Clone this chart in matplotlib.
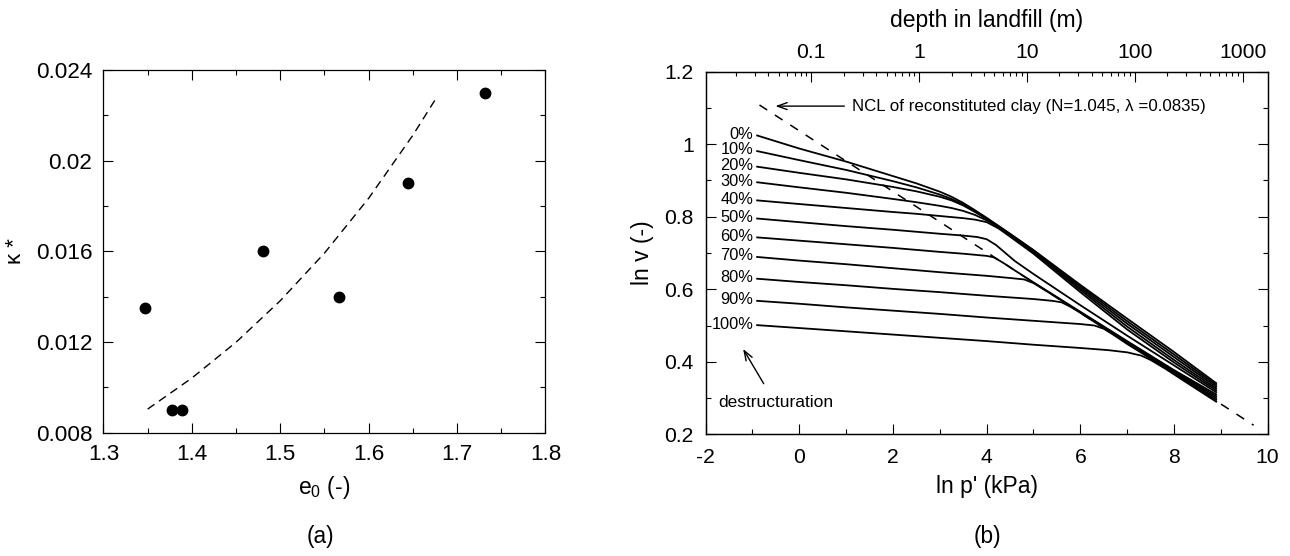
import numpy as np
import matplotlib.pyplot as plt
from matplotlib.ticker import MultipleLocator, FormatStrFormatter, LogLocator, FuncFormatter, NullFormatter

plt.rcParams['font.family'] = ['Liberation Sans', 'DejaVu Sans']
plt.rcParams['axes.unicode_minus'] = False
plt.rcParams['mathtext.default'] = 'regular'

# (a) kappa* against initial void ratio
e0 = [1.347, 1.377, 1.389, 1.481, 1.566, 1.644, 1.732]
kappa = [0.0135, 0.009, 0.009, 0.016, 0.014, 0.019, 0.023]
fit_e0 = [1.35, 1.40, 1.45, 1.50, 1.55, 1.60, 1.65, 1.675]
fit_kappa = [0.00904, 0.01041, 0.01199, 0.01382, 0.01592, 0.01834, 0.02112, 0.02267]

# (b) compression curves for each destructuration level
destr_labels = ['0%', '10%', '20%', '30%', '40%', '50%', '60%', '70%', '80%', '90%', '100%']
top_lnp = [-0.9, 0, 1, 2, 2.5, 3, 3.25, 3.5, 3.75, 4, 4.25, 4.5, 5, 6, 7, 8, 8.9]
curve_lnp = [
    top_lnp, top_lnp, top_lnp, top_lnp, top_lnp,
    [-0.9, 0, 1, 2, 3, 3.5, 3.8, 4.0, 4.2, 4.4, 4.6, 5, 6, 7, 8, 8.9],
    [-0.9, 0, 1, 2, 3, 3.5, 4.0, 4.15, 4.3, 4.45, 4.6, 5.0, 6, 7, 8, 8.9],
    [-0.9, 0, 1, 2, 3, 4, 4.5, 4.8, 5.0, 5.2, 5.5, 6, 7, 8, 8.9],
    [-0.9, 0, 1, 2, 3, 4, 5, 5.4, 5.6, 5.8, 6.0, 6.3, 7, 8, 8.9],
    [-0.9, 0, 1, 2, 3, 4, 5, 6, 6.3, 6.5, 6.7, 7.0, 7.5, 8, 8.9],
    [-0.9, 0, 1, 2, 3, 4, 5, 6, 6.6, 7.0, 7.3, 7.5, 7.8, 8.3, 8.9],
]
curve_lnv = [
    [1.024, 0.988, 0.952, 0.912, 0.892, 0.869, 0.855, 0.838, 0.818, 0.797, 0.775, 0.753, 0.708, 0.612, 0.519, 0.427, 0.341],
    [0.981, 0.956, 0.929, 0.898, 0.881, 0.861, 0.849, 0.834, 0.815, 0.795, 0.774, 0.752, 0.707, 0.608, 0.512, 0.420, 0.336],
    [0.938, 0.921, 0.903, 0.882, 0.870, 0.855, 0.845, 0.831, 0.813, 0.794, 0.773, 0.751, 0.705, 0.603, 0.505, 0.413, 0.331],
    [0.895, 0.881, 0.866, 0.849, 0.840, 0.830, 0.824, 0.816, 0.805, 0.790, 0.771, 0.749, 0.702, 0.598, 0.497, 0.405, 0.326],
    [0.845, 0.835, 0.824, 0.813, 0.808, 0.802, 0.799, 0.796, 0.792, 0.785, 0.768, 0.745, 0.698, 0.592, 0.489, 0.398, 0.321],
    [0.795, 0.785, 0.774, 0.764, 0.753, 0.748, 0.744, 0.738, 0.722, 0.700, 0.678, 0.642, 0.556, 0.472, 0.390, 0.316],
    [0.743, 0.734, 0.724, 0.714, 0.703, 0.698, 0.692, 0.688, 0.677, 0.665, 0.652, 0.619, 0.538, 0.457, 0.377, 0.310],
    [0.689, 0.679, 0.669, 0.658, 0.647, 0.637, 0.631, 0.627, 0.617, 0.601, 0.577, 0.536, 0.455, 0.374, 0.305],
    [0.629, 0.620, 0.611, 0.601, 0.592, 0.582, 0.573, 0.568, 0.564, 0.551, 0.535, 0.510, 0.452, 0.371, 0.300],
    [0.568, 0.560, 0.550, 0.541, 0.532, 0.522, 0.513, 0.504, 0.500, 0.491, 0.475, 0.449, 0.409, 0.368, 0.295],
    [0.501, 0.493, 0.484, 0.475, 0.466, 0.457, 0.447, 0.438, 0.432, 0.426, 0.417, 0.405, 0.382, 0.340, 0.290],
]
ncl_lnp = [-0.85, 9.7]
ncl_lnv = [1.108, 0.225]
unit_weight = 12.9  # kN/m3, links ln p' to depth

fig = plt.figure(figsize=(12.9, 5.56), dpi=100)

# ---- panel (a)
ax1 = fig.add_axes([0.0802, 0.2218, 0.3426, 0.6523])
ax1.plot(fit_e0, fit_kappa, 'k--', lw=1.0, dashes=(6, 4))
ax1.plot(e0, kappa, 'ko', ms=7.5)
ax1.set_xlim(1.3, 1.8)
ax1.set_ylim(0.008, 0.024)
ax1.xaxis.set_major_locator(MultipleLocator(0.1))
ax1.xaxis.set_minor_locator(MultipleLocator(0.05))
ax1.yaxis.set_major_locator(MultipleLocator(0.004))
ax1.yaxis.set_minor_locator(MultipleLocator(0.002))
ax1.xaxis.set_major_formatter(FormatStrFormatter('%g'))
ax1.yaxis.set_major_formatter(FuncFormatter(lambda v, p: '%g' % round(v, 4)))
ax1.tick_params(which='both', direction='in', top=True, right=True, width=0.8, labelsize=16.2, pad=8)
ax1.tick_params(which='major', length=7.5)
ax1.tick_params(which='minor', length=3.6)
ax1.set_xlabel('e$_0$ (-)', fontsize=16.5)
ax1.xaxis.label.set_va('center')
ax1.xaxis.set_label_coords(0.5, -0.1525)
ax1.set_ylabel('κ *', fontsize=16)
ax1.yaxis.label.set_va('center')
ax1.yaxis.set_label_coords(-0.198, 0.5)
for s in ax1.spines.values():
    s.set_linewidth(0.9)

# ---- panel (b)
ax2 = fig.add_axes([0.5470, 0.2189, 0.4357, 0.6522])
ax2.plot(ncl_lnp, ncl_lnv, 'k--', lw=1.1, dashes=(6, 6))
for xs, ys, lab in zip(curve_lnp, curve_lnv, destr_labels):
    ax2.plot(xs, ys, 'k-', lw=1.3)
    ax2.text(-0.98, ys[0] + 0.003, lab, ha='right', va='center', fontsize=11.8)

ax2.annotate('', xy=(-0.57, 1.105), xytext=(1.02, 1.105),
             arrowprops=dict(arrowstyle='->, head_length=0.7, head_width=0.25', lw=1.0, color='k'))
ax2.text(1.12, 1.105, 'NCL of reconstituted clay (N=1.045, λ =0.0835)', va='center', fontsize=12.2)
ax2.annotate('', xy=(-1.23, 0.442), xytext=(-0.73, 0.333),
             arrowprops=dict(arrowstyle='->, head_length=0.7, head_width=0.25', lw=1.0, color='k'))
ax2.text(-1.74, 0.287, 'destructuration', ha='left', va='center', fontsize=12.5)

ax2.set_xlim(-2, 10)
ax2.set_ylim(0.2, 1.2)
ax2.xaxis.set_major_locator(MultipleLocator(2))
ax2.xaxis.set_minor_locator(MultipleLocator(1))
ax2.yaxis.set_major_locator(MultipleLocator(0.2))
ax2.yaxis.set_minor_locator(MultipleLocator(0.1))
ax2.xaxis.set_major_formatter(FuncFormatter(lambda v, p: '%g' % round(v, 3)))
ax2.yaxis.set_major_formatter(FuncFormatter(lambda v, p: '%g' % round(v, 3)))
ax2.tick_params(which='both', direction='in', top=False, right=True, width=0.8, labelsize=15.2)
ax2.tick_params(axis='x', pad=10)
ax2.tick_params(axis='y', pad=8.5)
ax2.tick_params(which='major', length=7.5)
ax2.tick_params(which='minor', length=3.6)
ax2.set_xlabel("ln p' (kPa)", fontsize=16.5)
ax2.xaxis.label.set_va('center')
ax2.xaxis.set_label_coords(0.5, -0.145)
ax2.set_ylabel('ln v (-)', fontsize=16.5)
ax2.yaxis.label.set_va('center')
ax2.yaxis.set_label_coords(-0.113, 0.5)
for s in ax2.spines.values():
    s.set_linewidth(0.9)

ax3 = ax2.twiny()
ax3.set_xscale('log')
ax3.set_xlim(np.exp(-2) / unit_weight, np.exp(10) / unit_weight)
ax3.xaxis.set_major_locator(LogLocator(base=10))
ax3.xaxis.set_minor_locator(LogLocator(base=10, subs=np.arange(2, 10)))
ax3.xaxis.set_major_formatter(FuncFormatter(lambda v, p: '%g' % v))
ax3.xaxis.set_minor_formatter(NullFormatter())
ax3.tick_params(which='both', direction='in', width=0.8, labelsize=15.2, pad=7)
ax3.tick_params(which='major', length=7.5)
ax3.tick_params(which='minor', length=2.8)
ax3.set_xlabel('depth in landfill (m)', fontsize=16.5)
ax3.xaxis.label.set_va('center')
ax3.xaxis.set_label_coords(0.5, 1.14)
for s in ax3.spines.values():
    s.set_linewidth(0.9)

fig.text(320.7 / 1290, 1 - 537 / 556, '(a)', ha='center', va='center', fontsize=16.3)
fig.text(987 / 1290, 1 - 537 / 556, '(b)', ha='center', va='center', fontsize=16.3)

fig.savefig('out.png', dpi=100)
